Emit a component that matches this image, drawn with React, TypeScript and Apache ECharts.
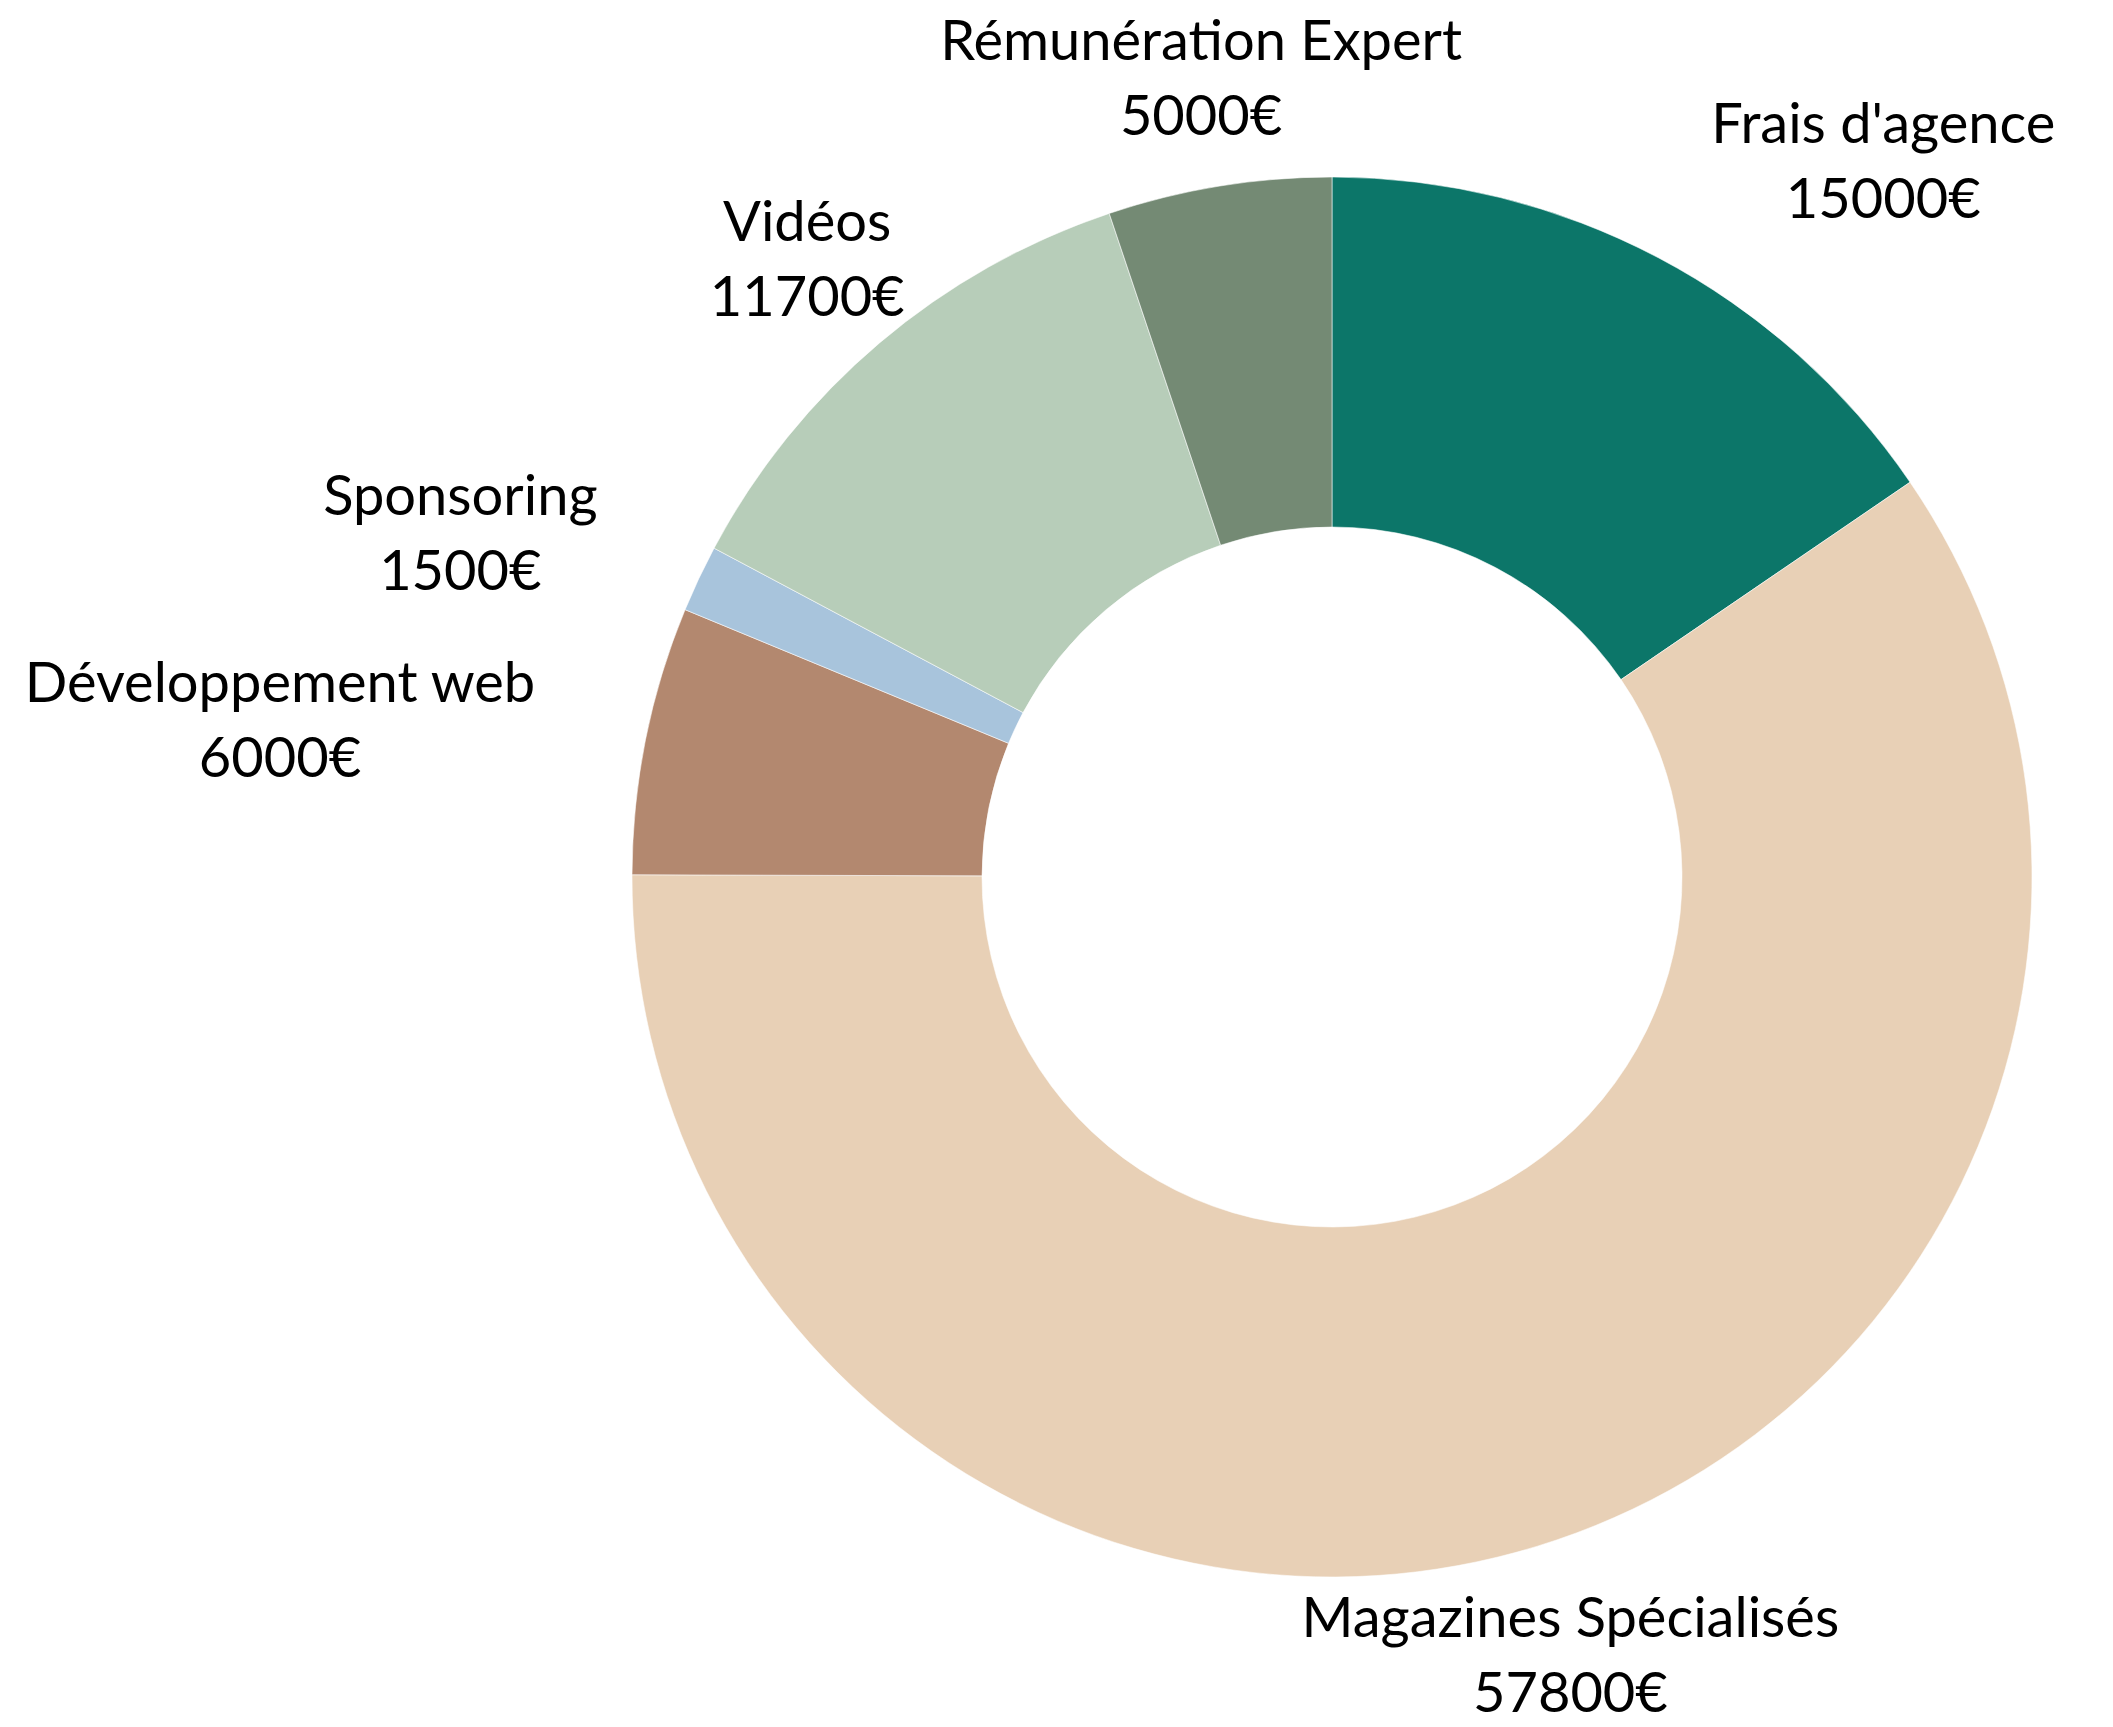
import React, { useEffect, useRef } from "react";
import * as echarts from "echarts";

const categories = [
  "Frais d'agence",
  "Magazines Spécialisés",
  "Développement web",
  "Sponsoring",
  "Vidéos",
  "Rémunération Expert",
];
const values = [15000, 57800, 6000, 1500, 11700, 5000];
const colors = ["#0c7669", "#e8d0b6", "#b3886f", "#a8c4dc", "#b7cdb9", "#748a74"];
// label alignment per slice (null = ECharts default side alignment)
const labelAligns: (string | null)[] = [null, "center", null, null, "center", "center"];

export default function App() {
  const ref = useRef<HTMLDivElement>(null);
  useEffect(() => {
    if (!ref.current) return;
    const chart = echarts.init(ref.current, undefined, { renderer: "svg" });
    chart.setOption({
      animation: false,
      backgroundColor: "#ffffff",
      series: [
        {
          type: "pie",
          center: [1332, 877],
          radius: [350, 700],
          startAngle: 90,
          clockwise: true,
          avoidLabelOverlap: false,
          itemStyle: { borderColor: "rgba(255,255,255,0.55)", borderWidth: 1 },
          label: {
            show: true,
            position: "outside",
            distanceToLabelLine: 0,
            fontFamily: "Lato",
            fontSize: 56,
            lineHeight: 75,
            color: "#000000",
            formatter: (p: any) => `{t|${p.name}}\n{t|${p.value}€}`,
            rich: {
              t: {
                fontFamily: "Lato",
                fontSize: 56,
                lineHeight: 75,
                color: "#000000",
                align: "center",
              },
            },
          },
          labelLine: { show: false, length: 112, length2: 0 },
          labelLayout: (params: any) => {
            const a = labelAligns[params.dataIndex];
            return a ? { align: a } : {};
          },
          emphasis: { disabled: true },
          data: categories.map((name, i) => ({
            name,
            value: values[i],
            itemStyle: { color: colors[i] },
          })),
        },
      ],
    });
    return () => chart.dispose();
  }, []);
  return (
    <div
      ref={ref}
      style={{ position: "fixed", left: 0, top: 0, width: 2113, height: 1727, background: "#fff" }}
    />
  );
}
